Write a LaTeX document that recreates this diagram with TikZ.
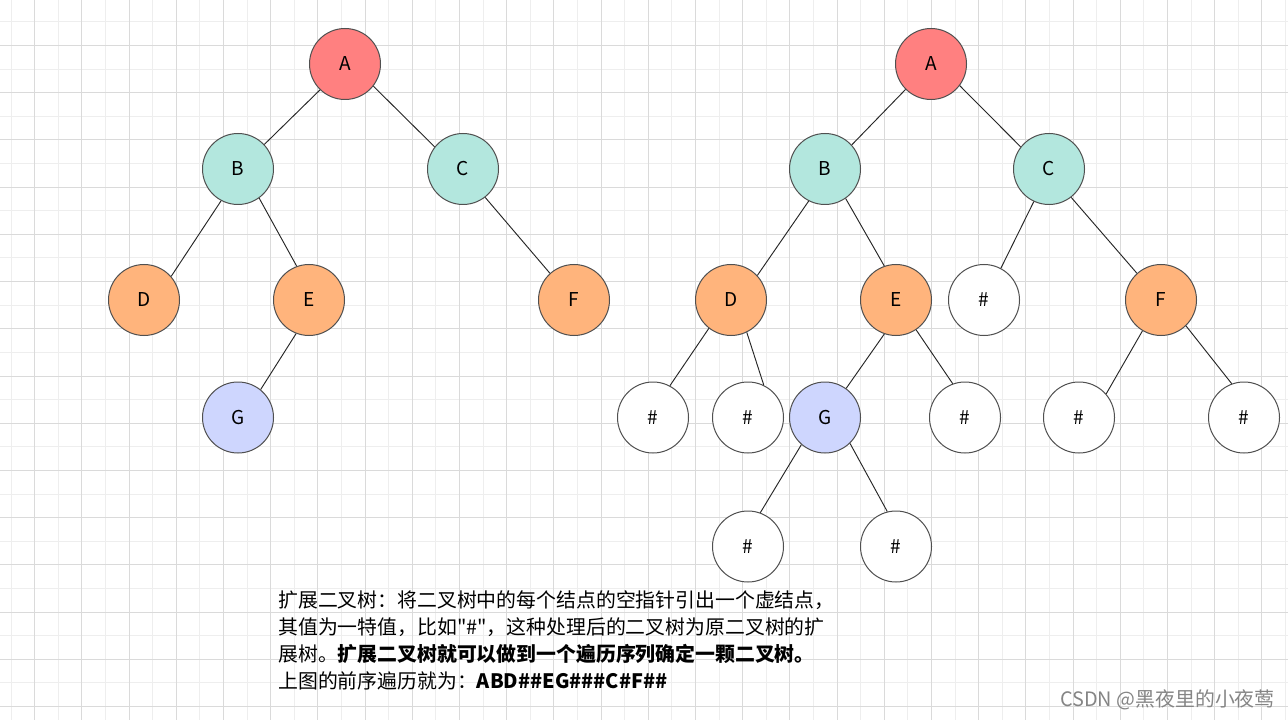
\documentclass[tikz,border=0pt]{standalone}
\usepackage{fontspec}
\setmainfont{Noto Sans CJK SC}[Ligatures=TeXOff]
\usetikzlibrary{positioning}
\definecolor{gridlite}{HTML}{EEEEEE}
\definecolor{griddark}{HTML}{DADADA}
\definecolor{rim}{HTML}{505050}
\definecolor{rootred}{HTML}{FF8080}
\definecolor{mint}{HTML}{B3E7DE}
\definecolor{peach}{HTML}{FFB47C}
\definecolor{lilac}{HTML}{CED6FE}

\begin{document}
\begin{tikzpicture}[x=0.75pt,y=-0.75pt,
  knot/.style={circle,draw=rim,line width=.75pt,minimum size=53.25pt,inner sep=0pt,
    font=\fontsize{14.3}{16}\selectfont},
  hole/.style={knot,fill=white},
  link/.style={line width=.7pt,black!85},
  note/.style={anchor=base west,inner sep=0pt,font=\fontsize{14.9}{20}\selectfont}]
  \useasboundingbox (0,0) rectangle (1288,720);
  \fill[white] (0,0) rectangle (1288,720);
  \foreach \k in {0,...,54}
    \draw[gridlite,line width=.75pt] (11+23.6*\k,0) -- (11+23.6*\k,720);
  \foreach \k in {0,...,29}
    \draw[gridlite,line width=.75pt] (0,22+23.6*\k) -- (1288,22+23.6*\k);
  \foreach \k in {1,3,...,53}
    \draw[griddark,line width=.75pt] (11+23.6*\k,0) -- (11+23.6*\k,720);
  \foreach \k in {1,3,...,29}
    \draw[griddark,line width=.75pt] (0,22+23.6*\k) -- (1288,22+23.6*\k);

  \node[knot,fill=rootred] (lA) at (345,64) {A};
  \node[knot,fill=mint] (lB) at (238,169) {B};
  \node[knot,fill=mint] (lC) at (463,169) {C};
  \node[knot,fill=peach] (lD) at (144,300) {D};
  \node[knot,fill=peach] (lE) at (309,300) {E};
  \node[knot,fill=peach] (lF) at (574,300) {F};
  \node[knot,fill=lilac] (lG) at (238,417.5) {G};
  \draw[link] (lA.226) -- (lB.43);
  \draw[link] (lA.322) -- (lC.142);
  \draw[link] (lB.242) -- (lD.41);
  \draw[link] (lB.306) -- (lE.110);
  \draw[link] (lC.308) -- (lF.132);
  \draw[link] (lE.249) -- (lG.51);

  \node[knot,fill=rootred] (rA) at (931,64) {A};
  \node[knot,fill=mint] (rB) at (825,169) {B};
  \node[knot,fill=mint] (rC) at (1049,169) {C};
  \node[knot,fill=peach] (rD) at (731,300) {D};
  \node[knot,fill=peach] (rE) at (896,300) {E};
  \node[knot,fill=peach] (rF) at (1161,300) {F};
  \node[knot,fill=lilac] (rG) at (825,417.5) {G};
  \node[hole] (h1) at (984,300) {\#};
  \node[hole] (h2) at (653,417.5) {\#};
  \node[hole] (h3) at (748,417.5) {\#};
  \node[hole] (h4) at (965,417.5) {\#};
  \node[hole] (h5) at (1079,417.5) {\#};
  \node[hole] (h6) at (1244,417.5) {\#};
  \node[hole] (h7) at (748,546.5) {\#};
  \node[hole] (h8) at (896,546.5) {\#};
  \draw[link] (rA.225) -- (rB.42);
  \draw[link] (rA.323) -- (rC.142);
  \draw[link] (rB.243) -- (rD.43);
  \draw[link] (rB.305) -- (rE.109);
  \draw[link] (rC.245) -- (h1.62);
  \draw[link] (rC.308) -- (rF.132);
  \draw[link] (rD.232) -- (h2.62);
  \draw[link] (rD.296) -- (h3.64);
  \draw[link] (rE.251) -- (rG.54);
  \draw[link] (rE.304) -- (h4.110);
  \draw[link] (rF.239) -- (h5.41);
  \draw[link] (rF.314) -- (h6.110);
  \draw[link] (rG.229) -- (h7.70);
  \draw[link] (rG.314) -- (h8.104);

  \node[note] (line1) at (278,607) {扩展二叉树：将二叉树中的每个结点的空指针引出一个虚结点，};
  \node[note] (line2) at (278,634) {其值为一特值，比如"\#"，这种处理后的二叉树为原二叉树的扩};
  \node[note] (line3) at (278,661) {展树。{\bfseries 扩展二叉树就可以做到一个遍历序列确定一颗二叉树。}};
  \node[note] (line4) at (278,688) {上图的前序遍历就为：{\bfseries ABD\#\#EG\#\#\#C\#F\#\#}};
  \node[note,text=black!48] (mark) at (1060,706) {CSDN @黑夜里的小夜莺};
\end{tikzpicture}
\end{document}
